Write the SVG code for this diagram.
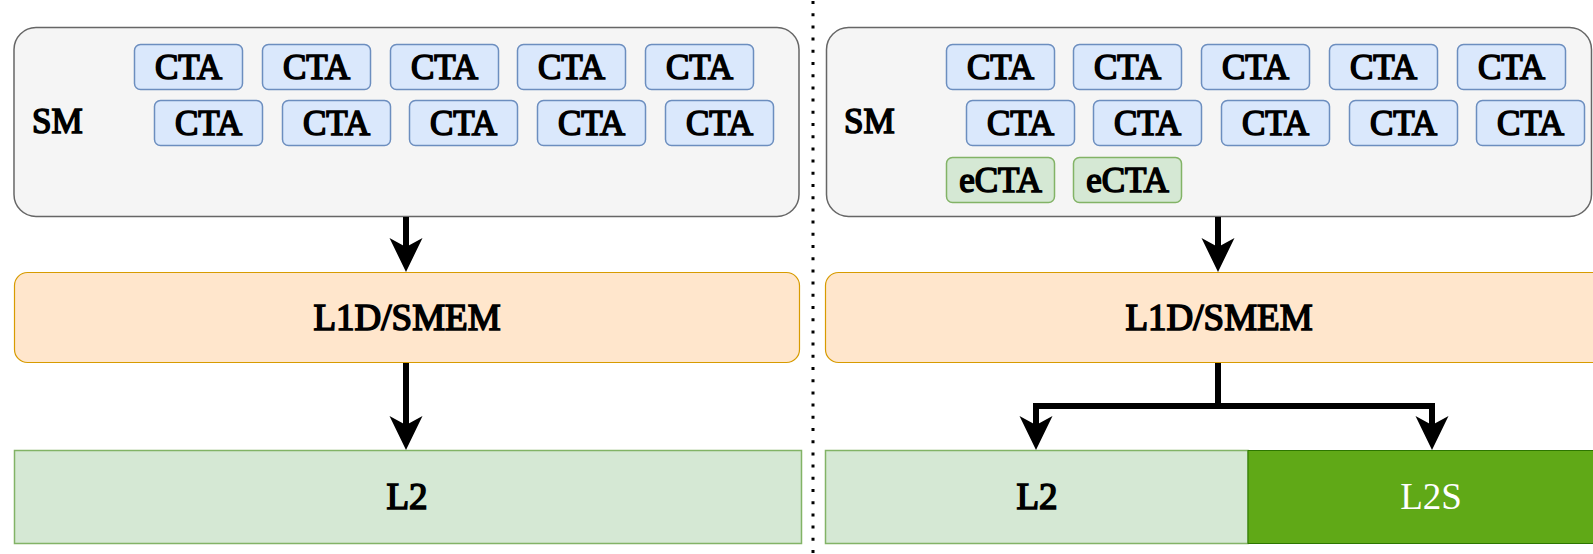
<svg xmlns="http://www.w3.org/2000/svg" width="1593" height="554" viewBox="0 0 1593 554">
<style>
.sm{fill:#f5f5f5;stroke:#666666;stroke-width:1.5}
.cta{fill:#dae8fc;stroke:#6c8ebf;stroke-width:1.5}
.ecta{fill:#d5e8d4;stroke:#82b366;stroke-width:1.5}
.l1{fill:#ffe6cc;stroke:#d79b00;stroke-width:1.2}
.l2{fill:#d5e8d4;stroke:#82b366;stroke-width:1.5}
.l2s{fill:#60a917;stroke:#2d7600;stroke-width:1}
.tx{font-family:'Liberation Serif','Times New Roman',serif;font-weight:400;fill:#000;stroke:#000;stroke-width:1.6;stroke-linejoin:miter;stroke-miterlimit:2}
.t34{font-size:35px;text-anchor:middle}
.t36{font-size:37px;text-anchor:middle}
.lbl{font-size:35px}
.wt{fill:#ffffff;stroke:none}
.edge{fill:none;stroke:#000;stroke-width:6}
.head{fill:#000;stroke:none}
</style>
<defs>
<path id="ah" d="M0,0 L-16.5,-34 L0,-25 L16.5,-34 Z"/>
</defs>

<line x1="813" y1="1" x2="813" y2="554" stroke="#000" stroke-width="3" stroke-dasharray="3 9.2" stroke-linecap="butt"/>

<!-- left side -->
<g id="sm-left">
<rect class="sm" x="14" y="27.5" width="785" height="189" rx="22"/>
<text class="tx lbl" x="32" y="133">SM</text>
</g>
<g id="cta-left">
<rect class="cta" x="134.5" y="44.5" width="108" height="45" rx="6"/><text class="tx t34" x="188.5" y="79">CTA</text>
<rect class="cta" x="262.5" y="44.5" width="108" height="45" rx="6"/><text class="tx t34" x="316.5" y="79">CTA</text>
<rect class="cta" x="390.5" y="44.5" width="108" height="45" rx="6"/><text class="tx t34" x="444.5" y="79">CTA</text>
<rect class="cta" x="517.5" y="44.5" width="108" height="45" rx="6"/><text class="tx t34" x="571.5" y="79">CTA</text>
<rect class="cta" x="645.5" y="44.5" width="108" height="45" rx="6"/><text class="tx t34" x="699.5" y="79">CTA</text>
<rect class="cta" x="154.5" y="100.5" width="108" height="45" rx="6"/><text class="tx t34" x="208.5" y="135">CTA</text>
<rect class="cta" x="282.5" y="100.5" width="108" height="45" rx="6"/><text class="tx t34" x="336.5" y="135">CTA</text>
<rect class="cta" x="409.5" y="100.5" width="108" height="45" rx="6"/><text class="tx t34" x="463.5" y="135">CTA</text>
<rect class="cta" x="537.5" y="100.5" width="108" height="45" rx="6"/><text class="tx t34" x="591.5" y="135">CTA</text>
<rect class="cta" x="665.5" y="100.5" width="108" height="45" rx="6"/><text class="tx t34" x="719.5" y="135">CTA</text>
</g>
<g id="l1d-left">
<rect class="l1" x="14.5" y="272.5" width="785" height="90" rx="13"/>
<text class="tx t36" x="407" y="330">L1D/SMEM</text>
</g>
<g id="l2-left">
<rect class="l2" x="14.5" y="450.5" width="787" height="93"/>
<text class="tx t36" x="407" y="509">L2</text>
</g>

<!-- right side -->
<g id="sm-right">
<rect class="sm" x="826.5" y="27.5" width="765" height="189" rx="22"/>
<text class="tx lbl" x="844" y="133">SM</text>
</g>
<g id="cta-right">
<rect class="cta" x="946.5" y="44.5" width="108" height="45" rx="6"/><text class="tx t34" x="1000.5" y="79">CTA</text>
<rect class="cta" x="1073.5" y="44.5" width="108" height="45" rx="6"/><text class="tx t34" x="1127.5" y="79">CTA</text>
<rect class="cta" x="1201.5" y="44.5" width="108" height="45" rx="6"/><text class="tx t34" x="1255.5" y="79">CTA</text>
<rect class="cta" x="1329.5" y="44.5" width="108" height="45" rx="6"/><text class="tx t34" x="1383.5" y="79">CTA</text>
<rect class="cta" x="1457.5" y="44.5" width="108" height="45" rx="6"/><text class="tx t34" x="1511.5" y="79">CTA</text>
<rect class="cta" x="966.5" y="100.5" width="108" height="45" rx="6"/><text class="tx t34" x="1020.5" y="135">CTA</text>
<rect class="cta" x="1093.5" y="100.5" width="108" height="45" rx="6"/><text class="tx t34" x="1147.5" y="135">CTA</text>
<rect class="cta" x="1221.5" y="100.5" width="108" height="45" rx="6"/><text class="tx t34" x="1275.5" y="135">CTA</text>
<rect class="cta" x="1349.5" y="100.5" width="108" height="45" rx="6"/><text class="tx t34" x="1403.5" y="135">CTA</text>
<rect class="cta" x="1476.5" y="100.5" width="108" height="45" rx="6"/><text class="tx t34" x="1530.5" y="135">CTA</text>
</g>
<g id="ecta-right">
<rect class="ecta" x="946.5" y="157.5" width="108" height="45" rx="6"/><text class="tx t34" x="1000.5" y="192">eCTA</text>
<rect class="ecta" x="1073.5" y="157.5" width="108" height="45" rx="6"/><text class="tx t34" x="1127.5" y="192">eCTA</text>
</g>
<g id="l1d-right">
<rect class="l1" x="825.5" y="272.5" width="790" height="90" rx="13"/>
<text class="tx t36" x="1219" y="330">L1D/SMEM</text>
</g>
<g id="l2-right">
<rect class="l2" x="825.5" y="450.5" width="422.5" height="93"/>
<text class="tx t36" x="1037" y="509">L2</text>
</g>
<g id="l2s-right">
<rect class="l2s" x="1248" y="450.5" width="370" height="93"/>
<text class="tx t36 wt" x="1431" y="509">L2S</text>
</g>

<g id="connectors">
<path class="edge" d="M406,217 V250"/>
<use href="#ah" class="head" x="406" y="272"/>
<path class="edge" d="M406,363 V428"/>
<use href="#ah" class="head" x="406" y="450"/>
<path class="edge" d="M1218,217 V250"/>
<use href="#ah" class="head" x="1218" y="272"/>
<path class="edge" d="M1218,363 V406 M1036,428 V406 H1432 V428" stroke-linejoin="miter"/>
<use href="#ah" class="head" x="1036" y="450"/>
<use href="#ah" class="head" x="1432" y="450"/>
</g>
</svg>
